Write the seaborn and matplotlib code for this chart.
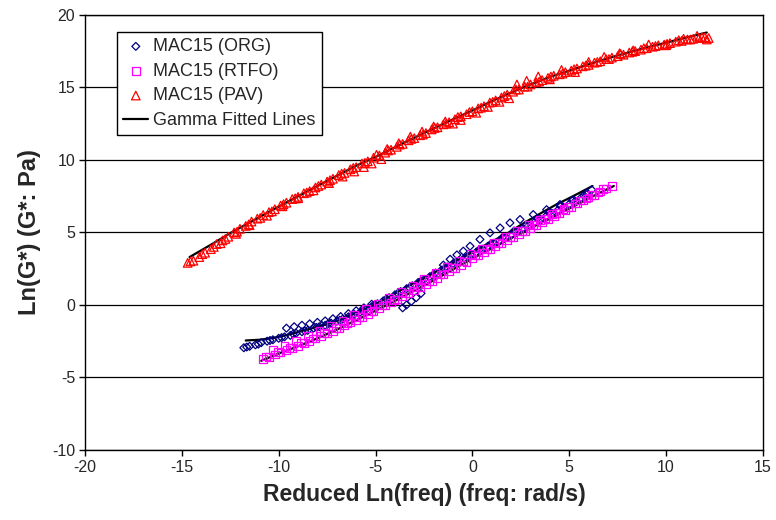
import numpy as np
import pandas as pd
import matplotlib
matplotlib.use("Agg")
import matplotlib.pyplot as plt
import seaborn as sb

### dati (master curve MAC15)

# MAC15 (ORG) - punti
org_x = [-11.8, -11.5, -11.2, -10.9, -10.6, -10.3, -10.0, -9.7, -9.4, -9.1, -8.8, -8.5, -8.2, -7.9,
         -7.6, -7.3, -7.0, -6.7, -6.4, -6.1, -5.8, -5.5, -5.2, -4.9, -4.6, -4.3, -4.0, -3.7, -3.4,
         -3.1, -2.8, -2.5, -2.2, -1.9, -1.6, -1.3, -1.0, -0.7, -0.4, -0.1, 0.2, 0.5, 0.8, 1.1, 1.4,
         1.7, 2.0, 2.3, 2.6, 2.9, 3.2, 3.5, 3.8, 4.1, 4.4, 4.7, 5.0, 5.3, 5.6, 5.9,
         -9.6, -9.2, -8.8, -8.4, -8.0, -7.6, -7.2, -6.8, -6.4, -6.0, -5.6, -5.2,
         -3.6, -3.4, -3.15, -2.9, -2.65,
         -1.5, -1.15, -0.8, -0.47, -0.12, 0.39, 0.91, 1.43, 1.94, 2.46, 3.14, 3.83, 4.52, 5.21,
         5.9, 6.16,
         -11.65, -11.05, -10.45, -9.85, -9.25, -8.65, -8.05, -7.45, -6.85, -6.25, -5.65, -5.05,
         -4.45, -3.85, -3.25, -2.65, -2.05, -1.45, -0.85, -0.25, 0.35, 0.95, 1.55, 2.15, 2.75,
         3.35, 3.95, 4.55, 5.15, 5.75]
org_y = [-2.95, -2.85, -2.75, -2.6, -2.5, -2.4, -2.3, -2.2, -2.1, -1.95, -1.85, -1.75, -1.6, -1.5,
         -1.4, -1.25, -1.12, -0.98, -0.82, -0.65, -0.5, -0.32, -0.12, 0.08, 0.28, 0.5, 0.7, 0.92, 1.12,
         1.32, 1.55, 1.75, 1.95, 2.2, 2.4, 2.62, 2.85, 3.05, 3.25, 3.45, 3.65, 3.85, 4.05, 4.25, 4.45,
         4.65, 4.85, 5.05, 5.28, 5.48, 5.7, 5.9, 6.12, 6.32, 6.52, 6.75, 6.95, 7.15, 7.38, 7.6,
         -1.6, -1.5, -1.4, -1.3, -1.2, -1.1, -0.95, -0.8, -0.6, -0.4, -0.2, 0.05,
         -0.2, 0.0, 0.25, 0.5, 0.8,
         2.75, 3.15, 3.45, 3.71, 4.05, 4.52, 4.97, 5.31, 5.66, 5.89, 6.23, 6.57, 6.92, 7.26,
         7.72, 7.94,
         -2.9, -2.7, -2.45, -2.25, -2.0, -1.8, -1.55, -1.3, -1.05, -0.75, -0.4, 0.0,
         0.4, 0.8, 1.2, 1.65, 2.05, 2.5, 2.95, 3.35, 3.8, 4.2, 4.65, 5.1, 5.5,
         5.95, 6.35, 6.8, 7.2, 7.55]

# MAC15 (RTFO) - punti
rtfo_x = [-10.8, -10.5, -10.2, -9.9, -9.6, -9.3, -9.0, -8.7, -8.4, -8.1, -7.8, -7.5, -7.2, -6.9,
          -6.6, -6.3, -6.0, -5.7, -5.4, -5.1, -4.8, -4.5, -4.2, -3.9, -3.6, -3.3, -3.0, -2.7, -2.4,
          -2.1, -1.8, -1.5, -1.2, -0.9, -0.6, -0.3, 0.0, 0.3, 0.6, 0.9, 1.2, 1.5, 1.8, 2.1, 2.4,
          2.7, 3.0, 3.3, 3.6, 3.9, 4.2, 4.5, 4.8, 5.1, 5.4, 5.7, 6.0, 6.3, 6.6, 6.9, 7.2,
          -10.3, -9.7, -9.1, -8.5, -7.9, -7.3, -6.7, -6.1, -5.5, -4.9, -4.3, -3.7, -3.1, -2.5,
          -1.9, -1.3, -0.7, -0.1, 0.5, 1.1, 1.7, 2.3, 2.9, 3.5, 4.1, 4.7, 5.3, 5.9, 6.5,
          -10.65, -10.05, -9.45, -8.85, -8.25, -7.65, -7.05, -6.45, -5.85, -5.25, -4.65, -4.05,
          -3.45, -2.85, -2.25, -1.65, -1.05, -0.45, 0.15, 0.75, 1.35, 1.95, 2.55, 3.15, 3.75,
          4.35, 4.95, 5.55, 6.15, 6.75]
rtfo_y = [-3.72, -3.58, -3.42, -3.27, -3.1, -2.96, -2.82, -2.64, -2.49, -2.31, -2.14, -1.96, -1.78,
          -1.6, -1.4, -1.21, -1.02, -0.83, -0.62, -0.43, -0.23, -0.04, 0.16, 0.37, 0.57, 0.79, 1.0,
          1.22, 1.44, 1.65, 1.87, 2.1, 2.32, 2.54, 2.76, 2.98, 3.2, 3.4, 3.62, 3.83, 4.04, 4.24,
          4.46, 4.67, 4.88, 5.09, 5.3, 5.51, 5.72, 5.93, 6.14, 6.35, 6.56, 6.77, 6.98, 7.19, 7.4,
          7.6, 7.82, 8.02, 8.18,
          -3.1, -2.85, -2.5, -2.15, -1.8, -1.45, -1.1, -0.7, -0.3, 0.05, 0.5, 0.9, 1.35, 1.8,
          2.2, 2.65, 3.05, 3.5, 3.9, 4.3, 4.7, 5.1, 5.5, 5.85, 6.25, 6.6, 7.0, 7.35, 7.75,
          -3.55, -3.25, -2.95, -2.6, -2.3, -1.95, -1.6, -1.25, -0.85, -0.45, -0.05, 0.35,
          0.8, 1.2, 1.65, 2.1, 2.55, 3.0, 3.4, 3.85, 4.25, 4.7, 5.1, 5.5, 5.95,
          6.35, 6.75, 7.2, 7.6, 8.0]

# MAC15 (PAV) - punti
pav_x = [-14.7, -14.4, -14.1, -13.8, -13.5, -13.2, -12.9, -12.6, -12.3, -12.0, -11.7, -11.4, -11.1,
         -10.8, -10.5, -10.2, -9.9, -9.6, -9.3, -9.0, -8.7, -8.4, -8.1, -7.8, -7.5, -7.2, -6.9, -6.6,
         -6.3, -6.0, -5.7, -5.4, -5.1, -4.8, -4.5, -4.2, -3.9, -3.6, -3.3, -3.0, -2.7, -2.4, -2.1,
         -1.8, -1.5, -1.2, -0.9, -0.6, -0.3, 0.0, 0.3, 0.6, 0.9, 1.2, 1.5, 1.8, 2.1, 2.4, 2.7, 3.0,
         3.3, 3.6, 3.9, 4.2, 4.5, 4.8, 5.1, 5.4, 5.7, 6.0, 6.3, 6.6, 6.9, 7.2, 7.5, 7.8, 8.1, 8.4,
         8.7, 9.0, 9.3, 9.6, 9.9, 10.2, 10.5, 10.8, 11.1, 11.4, 11.7, 12.0, 12.2,
         -13.0, -12.2, -11.5, -10.6, -9.8, -9.0, -8.2, -7.4, -6.7, -6.1, -5.6, -5.2, -4.7, -4.4,
         -3.8, -3.2, -2.6, -2.0, -1.4, -1.0, -0.6, 0.2, 0.8, 1.4, 1.9, 2.3, 2.8, 3.4, 4.0, 4.6,
         5.3, 6.0, 6.8, 7.6, 8.3, 9.1, 10.0, 10.9, 11.6, 12.1,
         -14.55, -13.95, -13.35, -12.75, -12.15, -11.55, -10.95, -10.35, -9.75, -9.15, -8.55,
         -7.95, -7.35, -6.75, -6.15, -5.55, -4.95, -4.35, -3.75, -3.15, -2.55, -1.95, -1.35,
         -0.75, -0.15, 0.45, 1.05, 1.65, 2.25, 2.85, 3.45, 4.05, 4.65, 5.25, 5.85, 6.45, 7.05,
         7.65, 8.25, 8.85, 9.45, 10.05, 10.65, 11.25, 11.85]
pav_y = [2.9, 3.05, 3.3, 3.6, 3.85, 4.2, 4.45, 4.7, 5.0, 5.25, 5.45, 5.75, 5.95, 6.2, 6.4, 6.6,
         6.85, 7.05, 7.3, 7.45, 7.7, 7.85, 8.1, 8.3, 8.5, 8.7, 8.95, 9.1, 9.35, 9.5, 9.75, 9.9,
         10.15, 10.3, 10.5, 10.7, 10.9, 11.1, 11.35, 11.5, 11.7, 11.85, 12.1, 12.25, 12.45, 12.6,
         12.8, 13.0, 13.15, 13.35, 13.55, 13.7, 13.95, 14.1, 14.3, 14.5, 14.7, 14.85, 15.05, 15.2,
         15.35, 15.5, 15.65, 15.8, 15.9, 16.05, 16.15, 16.3, 16.45, 16.55, 16.7, 16.8, 16.95, 17.05,
         17.15, 17.25, 17.4, 17.5, 17.6, 17.7, 17.8, 17.9, 17.95, 18.05, 18.15, 18.2, 18.3, 18.35,
         18.4, 18.45, 18.4,
         4.25, 4.9, 5.5, 6.15, 6.8, 7.35, 7.9, 8.4, 8.85, 9.2, 9.5, 9.75, 10.05, 10.75,
         11.15, 11.6, 11.95, 12.3, 12.65, 12.5, 12.75, 13.25, 13.65, 14.0, 14.25, 15.2, 15.45, 15.75,
         15.55, 16.2, 16.05, 16.75, 17.1, 17.35, 17.55, 17.95, 17.9, 18.35, 18.55, 18.3,
         3.0, 3.5, 4.0, 4.55, 5.05, 5.55, 6.0, 6.45, 6.95, 7.35, 7.75,
         8.2, 8.6, 9.05, 9.45, 9.8, 10.35, 10.65, 11.05, 11.45, 11.75, 12.2, 12.5,
         12.95, 13.3, 13.6, 14.0, 14.4, 14.85, 15.05, 15.4, 15.75, 15.95, 16.25, 16.5, 16.75, 16.95,
         17.3, 17.45, 17.7, 17.85, 18.0, 18.25, 18.3, 18.45]

# curve gamma interpolanti
fit_org_x = [-11.7, -11.0, -10.3, -9.5, -8.6, -7.7, -6.8, -6.0, -5.1, -4.2, -3.4, -2.5, -1.7, -0.8,
             0.0, 0.9, 1.8, 2.6, 3.5, 4.3, 5.2, 6.2]
fit_org_y = [-2.45, -2.4, -2.28, -2.05, -1.72, -1.4, -1.02, -0.55, 0.0, 0.62, 1.25, 1.85, 2.42,
             3.05, 3.65, 4.3, 4.93, 5.6, 6.3, 6.9, 7.5, 8.2]
fit_rtfo_x = [-10.9, -10.0, -9.0, -8.0, -7.0, -6.0, -5.0, -4.0, -3.0, -2.0, -1.0, 0.0, 1.0, 2.0,
              3.0, 4.0, 5.0, 6.0, 7.3]
fit_rtfo_y = [-3.85, -3.35, -2.85, -2.3, -1.7, -1.05, -0.4, 0.28, 0.98, 1.7, 2.45, 3.2, 3.9, 4.6,
              5.3, 5.95, 6.65, 7.35, 8.2]
fit_pav_x = [-14.6, -13.5, -12.5, -11.0, -10.0, -8.5, -7.5, -6.0, -5.0, -3.5, -2.5, -1.0, 0.0, 1.0,
             2.5, 4.0, 5.0, 6.5, 7.5, 9.0, 10.0, 11.0, 12.1]
fit_pav_y = [3.3, 4.15, 4.95, 6.05, 6.78, 7.85, 8.55, 9.6, 10.2, 11.2, 11.85, 12.8, 13.4, 14.05,
             14.93, 15.72, 16.15, 16.8, 17.2, 17.75, 18.08, 18.42, 18.78]

sb.set_style("white")
plt.rcParams["font.family"] = ["Liberation Sans", "DejaVu Sans"]
plt.rcParams["axes.unicode_minus"] = False

fig, ax = plt.subplots(figsize=(7.76, 5.2), dpi=100)
fig.subplots_adjust(left=0.1095, right=0.9832, top=0.9715, bottom=0.1346)

### linee fitted (sotto i marker)
sb.lineplot(x=fit_org_x, y=fit_org_y, sort=False, estimator=None, color="black", lw=1.6,
            ax=ax, zorder=2, label="Gamma Fitted Lines")
sb.lineplot(x=fit_rtfo_x, y=fit_rtfo_y, sort=False, estimator=None, color="black", lw=1.6,
            ax=ax, zorder=2)
sb.lineplot(x=fit_pav_x, y=fit_pav_y, sort=False, estimator=None, color="black", lw=1.6,
            ax=ax, zorder=2)

### punti
sb.scatterplot(x=org_x, y=org_y, marker="D", s=16, facecolor="none", edgecolor="#000080",
               linewidth=0.9, ax=ax, zorder=3, label="MAC15 (ORG)")
sb.scatterplot(x=rtfo_x, y=rtfo_y, marker="s", s=30, facecolor="none", edgecolor="#FF00FF",
               linewidth=0.9, ax=ax, zorder=3, label="MAC15 (RTFO)")
sb.scatterplot(x=pav_x, y=pav_y, marker="^", s=38, facecolor="none", edgecolor="#FF0000",
               linewidth=0.9, ax=ax, zorder=3, label="MAC15 (PAV)")

ax.set_xlim(-20, 15)
ax.set_ylim(-10, 20)
ax.set_xticks(np.arange(-20, 16, 5))
ax.set_yticks(np.arange(-10, 21, 5))
ax.yaxis.grid(True, color="black", lw=0.9)
ax.xaxis.grid(False)
for s in ax.spines.values():
    s.set_color("black")
    s.set_linewidth(1.0)
ax.tick_params(axis="both", direction="out", length=4, width=1, color="black",
               labelsize=11.5, pad=3, left=True, bottom=True)

ax.set_xlabel("Reduced Ln(freq) (freq: rad/s)", fontsize=16.5, fontweight="bold", labelpad=6)
ax.set_ylabel("Ln(G*) (G*: Pa)", fontsize=17, fontweight="bold", labelpad=8)

h, l = ax.get_legend_handles_labels()
order = [l.index("MAC15 (ORG)"), l.index("MAC15 (RTFO)"), l.index("MAC15 (PAV)"),
         l.index("Gamma Fitted Lines")]
leg = ax.legend([h[i] for i in order], [l[i] for i in order], loc="upper left",
                bbox_to_anchor=(0.047, 0.961), borderaxespad=0, fontsize=13,
                fancybox=False, framealpha=1, edgecolor="black", handlelength=1.4,
                handletextpad=0.25, labelspacing=0.42, borderpad=0.35)
leg.get_frame().set_linewidth(1.0)

plt.savefig("out.png", dpi=100)
